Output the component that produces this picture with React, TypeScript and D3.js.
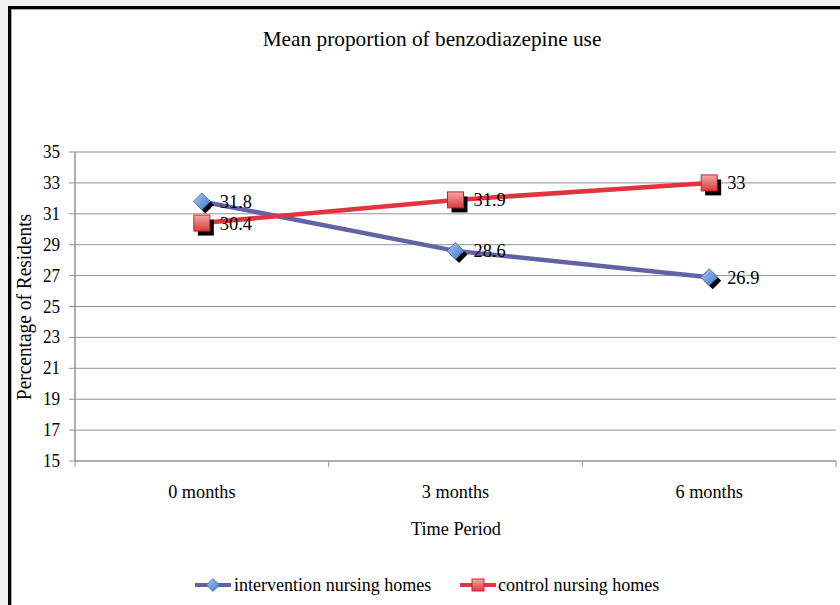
import React from "react";
import * as d3 from "d3";

const categories = ["0 months", "3 months", "6 months"];
const interventionValues = [31.8, 28.6, 26.9];
const controlValues = [30.4, 31.9, 33];
const yTicks = [15, 17, 19, 21, 23, 25, 27, 29, 31, 33, 35];
const seriesNames = ["intervention nursing homes", "control nursing homes"];

const W = 840;
const H = 605;
const plot = { left: 75, right: 836, top: 152, bottom: 461 };
const FONT = "'Liberation Serif', 'Times New Roman', serif";

type TProps = {
  x: number;
  y: number;
  size: number;
  sx?: number;
  anchor?: "start" | "middle" | "end";
  rotate?: number;
  children: React.ReactNode;
};

// Text drawn with a slight horizontal squeeze, like the narrow serif face of the chart
function T({ x, y, size, sx = 1, anchor = "start", rotate = 0, children }: TProps) {
  return (
    <g transform={`translate(${x},${y}) rotate(${rotate}) scale(${sx},1)`}>
      <text x={0} y={0} textAnchor={anchor} fontSize={size} fill="#000" fontFamily={FONT}>
        {children}
      </text>
    </g>
  );
}

export default function App() {
  const x = d3.scaleBand<string>().domain(categories).range([plot.left, plot.right]);
  const y = d3.scaleLinear().domain([15, 35]).range([plot.bottom, plot.top]);
  const cx = (c: string) => (x(c) ?? 0) + x.bandwidth() / 2;

  const line = d3
    .line<[string, number]>()
    .x((d) => cx(d[0]))
    .y((d) => y(d[1]));

  const interv: [string, number][] = categories.map((c, i) => [c, interventionValues[i]]);
  const ctrl: [string, number][] = categories.map((c, i) => [c, controlValues[i]]);

  const blueLine = "#6262a6";
  const redLine = "#e2333f";
  const gridColor = "#939393";

  const diamond = (px: number, py: number, r = 8.5) =>
    `M${px},${py - r}L${px + r},${py}L${px},${py + r}L${px - r},${py}Z`;

  const bounds = [plot.left, ...categories.map((c) => (x(c) ?? 0) + x.bandwidth())];

  return (
    <svg width={W} height={H} style={{ position: "absolute", left: 0, top: 0 }} fontFamily={FONT}>
      <defs>
        <linearGradient id="gBlue" x1="0" y1="0" x2="1" y2="1">
          <stop offset="0" stopColor="#a9c6f0" />
          <stop offset="1" stopColor="#3f78cc" />
        </linearGradient>
        <linearGradient id="gRed" x1="0" y1="0" x2="0" y2="1">
          <stop offset="0" stopColor="#f4a8a8" />
          <stop offset="1" stopColor="#d83b3b" />
        </linearGradient>
      </defs>
      <rect x={0} y={0} width={W} height={H} fill="#f0f0f0" />
      <rect x={8} y={6} width={W} height={H} fill="#ffffff" />
      <rect x={9.5} y={7.5} width={W} height={H} fill="none" stroke="#000" strokeWidth={3} />
      <rect x={11.5} y={9.5} width={W} height={H} fill="none" stroke="#a8a8a8" strokeWidth={1} />

      <T x={432} y={46} size={22} sx={0.97} anchor="middle">
        Mean proportion of benzodiazepine use
      </T>

      {/* gridlines and y axis ticks */}
      {yTicks.map((t) => (
        <g key={t}>
          {t !== 15 && (
            <line x1={plot.left} x2={plot.right} y1={y(t)} y2={y(t)} stroke={gridColor} strokeWidth={1} />
          )}
          <line x1={plot.left - 6} x2={plot.left} y1={y(t)} y2={y(t)} stroke={gridColor} />
          <T x={60} y={y(t) + 6} size={19} sx={0.9} anchor="end">
            {t}
          </T>
        </g>
      ))}
      <line x1={plot.left} x2={plot.left} y1={plot.top} y2={plot.bottom} stroke={gridColor} strokeWidth={1.5} />
      <line x1={plot.left} x2={plot.right} y1={plot.bottom} y2={plot.bottom} stroke={gridColor} strokeWidth={1.5} />
      {bounds.map((b, i) => (
        <line key={i} x1={b} x2={b} y1={plot.bottom} y2={plot.bottom + 6} stroke={gridColor} />
      ))}
      {categories.map((c) => (
        <T key={c} x={cx(c)} y={498} size={19} sx={0.96} anchor="middle">
          {c}
        </T>
      ))}

      <T x={456} y={535} size={19} sx={0.96} anchor="middle">
        Time Period
      </T>
      <T x={31} y={307} size={20} sx={0.97} anchor="middle" rotate={-90}>
        Percentage of Residents
      </T>

      {/* series lines */}
      <path d={line(interv) ?? ""} fill="none" stroke={blueLine} strokeWidth={4.5} />
      <path d={line(ctrl) ?? ""} fill="none" stroke={redLine} strokeWidth={4.5} />

      {/* intervention markers */}
      {interv.map(([c, v]) => (
        <g key={"i" + c}>
          <path d={diamond(cx(c) + 3.5, y(v) + 3.5)} fill="#000" />
          <path d={diamond(cx(c), y(v))} fill="url(#gBlue)" stroke="#3a64a8" strokeWidth={0.8} />
        </g>
      ))}
      {/* control markers */}
      {ctrl.map(([c, v]) => (
        <g key={"c" + c}>
          <rect x={cx(c) - 8 + 4} y={y(v) - 8 + 4.5} width={16} height={16} fill="#000" />
          <rect x={cx(c) - 8} y={y(v) - 8} width={16} height={16} fill="url(#gRed)" stroke="#c0282e" strokeWidth={1} />
        </g>
      ))}

      {/* data labels */}
      {[...interv, ...ctrl].map(([c, v], i) => (
        <T key={"l" + i} x={cx(c) + 18} y={y(v) + 6.5} size={19} sx={0.97}>
          {v}
        </T>
      ))}

      {/* legend */}
      <g>
        <line x1={195} x2={231} y1={585} y2={585} stroke={blueLine} strokeWidth={4} />
        <path d={diamond(213, 585, 6.5)} fill="url(#gBlue)" stroke="#3a64a8" strokeWidth={0.8} />
        <T x={234} y={591} size={19} sx={0.95}>
          {seriesNames[0]}
        </T>
        <line x1={460} x2={496} y1={585} y2={585} stroke={redLine} strokeWidth={4} />
        <rect x={472} y={579} width={12} height={12} fill="url(#gRed)" stroke="#c0282e" />
        <T x={498} y={591} size={19} sx={0.95}>
          {seriesNames[1]}
        </T>
      </g>
    </svg>
  );
}
